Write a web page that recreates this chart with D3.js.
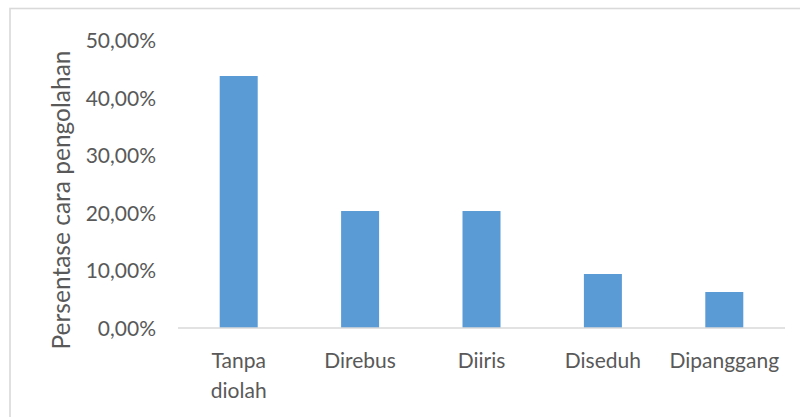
<!DOCTYPE html>
<html>
<head>
<meta charset="utf-8">
<script src="https://cdn.jsdelivr.net/npm/d3@7"></script>
<style>
  html, body { margin: 0; padding: 0; background: #fff; }
  svg { display: block; }
  text { font-family: Lato, "Open Sans", sans-serif; fill: #595959; }
</style>
</head>
<body>
<svg id="chart" width="800" height="417"></svg>
<script>
// Cooking method shares
const categories = [["Tanpa", "diolah"], ["Direbus"], ["Diiris"], ["Diseduh"], ["Dipanggang"]];
const values = [0.4375, 0.2031, 0.2031, 0.09375, 0.0625];
const yTicks = [0, 0.1, 0.2, 0.3, 0.4, 0.5];
const yTitle = "Persentase cara pengolahan";

const svg = d3.select("#chart");
const W = 800, H = 417;

// chart area frame
svg.append("rect")
  .attr("x", 10).attr("y", 8.5)
  .attr("width", W).attr("height", H)
  .attr("fill", "#fff")
  .attr("stroke", "#d9d9d9").attr("stroke-width", 1.6);

const keys = categories.map(c => c.join(" "));
const x = d3.scaleBand()
  .domain(keys)
  .range([178, 785])
  .paddingInner(0.687)
  .paddingOuter(0.3435);

const y = d3.scaleLinear().domain([0, 0.5]).range([328, 40]);

const locale = d3.formatLocale({ decimal: ",", thousands: ".", grouping: [3], currency: ["", ""] });
const pct = locale.format(".2%");

// y axis labels only (no line, no gridlines)
const yAxis = d3.axisLeft(y).tickValues(yTicks).tickFormat(pct).tickSize(0).tickPadding(0);
const gy = svg.append("g").attr("transform", "translate(156,0)").call(yAxis);
gy.select(".domain").remove();
gy.selectAll("text")
  .attr("font-family", "Lato, 'Open Sans', sans-serif")
  .attr("font-size", 21)
  .attr("fill", "#595959")
  .attr("dy", "0.36em");

// bars
svg.append("g").selectAll("rect")
  .data(values)
  .join("rect")
  .attr("x", (d, i) => x(keys[i]))
  .attr("y", d => y(d))
  .attr("width", x.bandwidth())
  .attr("height", d => y(0) - y(d))
  .attr("fill", "#5b9bd5");

// category axis line
svg.append("line")
  .attr("x1", x.range()[0]).attr("x2", x.range()[1])
  .attr("y1", y(0)).attr("y2", y(0))
  .attr("stroke", "#d9d9d9").attr("stroke-width", 1.6);

// category labels
const gx = svg.append("g");
categories.forEach((lines, i) => {
  const t = gx.append("text")
    .attr("x", x(keys[i]) + x.bandwidth() / 2)
    .attr("y", 368)
    .attr("text-anchor", "middle")
    .attr("font-size", 21);
  lines.forEach((ln, j) => {
    t.append("tspan")
      .attr("x", x(keys[i]) + x.bandwidth() / 2)
      .attr("dy", j === 0 ? 0 : 30)
      .text(ln);
  });
});

// y axis title
svg.append("text")
  .attr("transform", "translate(70,200) rotate(-90)")
  .attr("text-anchor", "middle")
  .attr("font-size", 24.5)
  .text(yTitle);
</script>
</body>
</html>
